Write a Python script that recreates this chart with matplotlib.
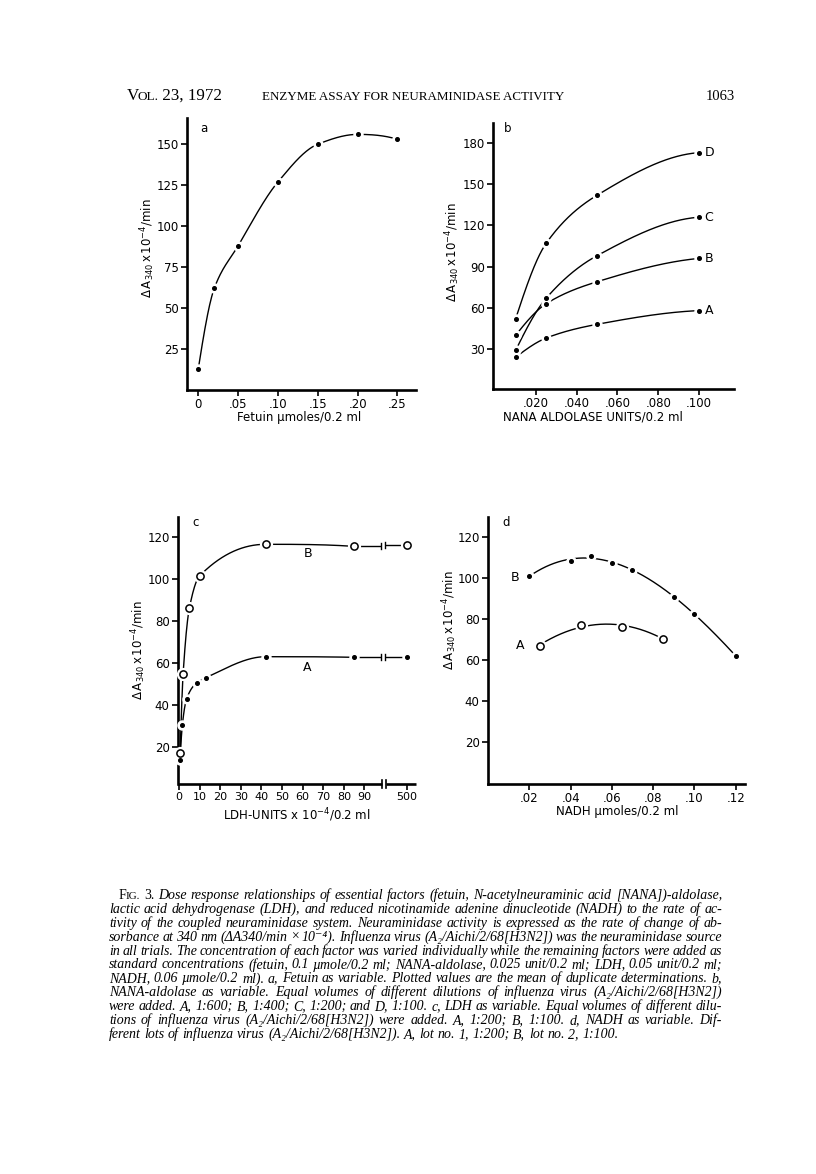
import numpy as np
import matplotlib
matplotlib.use('Agg')
import matplotlib.pyplot as plt
from matplotlib.transforms import blended_transform_factory

# ---------------- data ----------------
# panel a : fetuin as variable
a_fetuin = [0, 0.02, 0.05, 0.10, 0.15, 0.20, 0.25]
a_rate = [13, 62, 88, 127, 150, 156, 153]
a_xticks = [0, 0.05, 0.10, 0.15, 0.20, 0.25]
a_xticklabels = ['0', '.05', '.10', '.15', '.20', '.25']
a_yticks = [25, 50, 75, 100, 125, 150]

# panel b : NANA-aldolase as variable
b_units = [0.01, 0.025, 0.05, 0.10]
b_A = [24, 38, 48, 58]
b_B = [40, 63, 79, 96]
b_C = [29, 67, 98, 126]
b_D = [52, 107, 142, 173]
b_labels = ['A', 'B', 'C', 'D']
b_xticks = [0.02, 0.04, 0.06, 0.08, 0.10]
b_xticklabels = ['.020', '.040', '.060', '.080', '.100']
b_yticks = [30, 60, 90, 120, 150, 180]

# panel c : LDH as variable
c_ldh_A = [0.5, 1.6, 3.7, 8.6, 13, 42, 85, 500]
c_A = [14, 30.5, 43, 50.6, 53, 63, 62.7, 62.7]
c_ldh_B = [0.5, 2, 5, 10, 42, 85, 500]
c_B = [17, 55, 86, 101.5, 116.5, 115.5, 116.3]
c_xticks = [0, 10, 20, 30, 40, 50, 60, 70, 80, 90, 500]
c_yticks = [20, 40, 60, 80, 100, 120]

# panel d : NADH as variable
d_nadh_A = [0.025, 0.045, 0.065, 0.085]
d_A = [67, 77, 76, 70.5]
d_nadh_B = [0.02, 0.04, 0.05, 0.06, 0.07, 0.09, 0.10, 0.12]
d_B = [101, 108.3, 111, 107.3, 104, 90.6, 82.6, 62]
d_xticks = [0.02, 0.04, 0.06, 0.08, 0.10, 0.12]
d_xticklabels = ['.02', '.04', '.06', '.08', '.10', '.12']
d_yticks = [20, 40, 60, 80, 100, 120]

header_left = [('V', 1.0), ('OL.', 0.78), (' 23, 1972', 1.0)]
header_mid = 'ENZYME ASSAY FOR NEURAMINIDASE ACTIVITY'
header_right = '1063'

caption_lines = [
    "FIG. 3. Dose response relationships of essential factors (fetuin, N-acetylneuraminic acid [NANA])-aldolase,",
    "lactic acid dehydrogenase (LDH), and reduced nicotinamide adenine dinucleotide (NADH) to the rate of ac-",
    "tivity of the coupled neuraminidase system. Neuraminidase activity is expressed as the rate of change of ab-",
    "sorbance at 340 nm (\u0394A340/min \u00d7 10\u207b\u2074). Influenza virus (A\u2082/Aichi/2/68[H3N2]) was the neuraminidase source",
    "in all trials. The concentration of each factor was varied individually while the remaining factors were added as",
    "standard concentrations (fetuin, 0.1 \u00b5mole/0.2 ml; NANA-aldolase, 0.025 unit/0.2 ml; LDH, 0.05 unit/0.2 ml;",
    "NADH, 0.06 \u00b5mole/0.2 ml). a, Fetuin as variable. Plotted values are the mean of duplicate determinations. b,",
    "NANA-aldolase as variable. Equal volumes of different dilutions of influenza virus (A\u2082/Aichi/2/68[H3N2])",
    "were added. A, 1:600; B, 1:400; C, 1:200; and D, 1:100. c, LDH as variable. Equal volumes of different dilu-",
    "tions of influenza virus (A\u2082/Aichi/2/68[H3N2]) were added. A, 1:200; B, 1:100. d, NADH as variable. Dif-",
    "ferent lots of influenza virus (A\u2082/Aichi/2/68[H3N2]). A, lot no. 1, 1:200; B, lot no. 2, 1:100.",
]

# ---------------- setup ----------------
W, H = 816, 1174
plt.rcParams['font.family'] = ['DejaVu Sans']
plt.rcParams['mathtext.default'] = 'regular'
SERIF = ['Liberation Serif', 'DejaVu Serif']
TICK_FS = 8.5

fig = plt.figure(figsize=(W / 100, H / 100), dpi=100)
fig.patch.set_facecolor('white')
renderer = fig.canvas.get_renderer()


def fx(x):
    return x / W


def fy(y):
    return 1 - y / H


def box(x0, y0, x1, y1):
    return [x0 / W, 1 - y1 / H, (x1 - x0) / W, (y1 - y0) / H]


def pchip(x, y, xn):
    x = np.asarray(x, float)
    y = np.asarray(y, float)
    h = np.diff(x)
    d = np.diff(y) / h
    n = len(x)
    m = np.zeros(n)
    for k in range(1, n - 1):
        if d[k - 1] * d[k] > 0:
            w1 = 2 * h[k] + h[k - 1]
            w2 = h[k] + 2 * h[k - 1]
            m[k] = (w1 + w2) / (w1 / d[k - 1] + w2 / d[k])

    def endslope(h0, h1, d0, d1):
        s = ((2 * h0 + h1) * d0 - h0 * d1) / (h0 + h1)
        if np.sign(s) != np.sign(d0):
            s = 0.0
        elif np.sign(d0) != np.sign(d1) and abs(s) > abs(3 * d0):
            s = 3 * d0
        return s

    if n > 2:
        m[0] = endslope(h[0], h[1], d[0], d[1])
        m[-1] = endslope(h[-1], h[-2], d[-1], d[-2])
    else:
        m[:] = d[0]
    xn = np.asarray(xn, float)
    idx = np.clip(np.searchsorted(x, xn) - 1, 0, n - 2)
    t = (xn - x[idx]) / h[idx]
    h00 = 2 * t**3 - 3 * t**2 + 1
    h10 = t**3 - 2 * t**2 + t
    h01 = -2 * t**3 + 3 * t**2
    h11 = t**3 - t**2
    return h00 * y[idx] + h10 * h[idx] * m[idx] + h01 * y[idx + 1] + h11 * h[idx] * m[idx + 1]


def style_axes(ax):
    for s in ['top', 'right']:
        ax.spines[s].set_visible(False)
    for s in ['left', 'bottom']:
        ax.spines[s].set_linewidth(1.9)
    ax.tick_params(direction='out', length=4, width=1.2, labelsize=TICK_FS, pad=2)
    ax.set_facecolor('none')


def line(ax, xs, ys):
    ax.plot(xs, ys, color='black', lw=1.0, zorder=2, solid_capstyle='butt')


def dots(ax, x, y):
    ax.plot(x, y, ls='none', marker='o', ms=6.5, mfc='white', mec='white', zorder=3, clip_on=False)
    ax.plot(x, y, ls='none', marker='o', ms=2.6, mfc='black', mec='black', zorder=4, clip_on=False)


def circles(ax, x, y):
    ax.plot(x, y, ls='none', marker='o', ms=8.5, mfc='white', mec='white', zorder=3, clip_on=False)
    ax.plot(x, y, ls='none', marker='o', ms=5.2, mfc='white', mec='black', mew=1.1, zorder=4, clip_on=False)


def ftext(x, y, s, **kw):
    return fig.text(fx(x), fy(y), s, **kw)


YLAB = r'$\Delta\,A_{340}\,x\,10^{-4}/min$'

# ---------------- panel a ----------------
axa = fig.add_axes(box(187, 118, 416, 390))
style_axes(axa)
axa.set_xlim(-0.0142, 0.2733)
axa.set_ylim(0, 166)
xs = np.linspace(a_fetuin[0], a_fetuin[-1], 300)
line(axa, xs, pchip(a_fetuin, a_rate, xs))
dots(axa, a_fetuin, a_rate)
axa.set_xticks(a_xticks)
axa.set_xticklabels(a_xticklabels)
axa.tick_params(axis='x', pad=1.5)
axa.set_yticks(a_yticks)
ftext(204, 129, 'a', fontsize=TICK_FS, ha='center', va='center')
ftext(299, 417, 'Fetuin \u00b5moles/0.2 ml', fontsize=TICK_FS, ha='center', va='center')
ftext(148, 248, YLAB, fontsize=TICK_FS, rotation=90, ha='center', va='center')

# ---------------- panel b ----------------
axb = fig.add_axes(box(493, 123, 734, 389))
style_axes(axb)
axb.set_xlim(-0.0011, 0.1172)
axb.set_ylim(0.9, 194.6)
xs = np.linspace(b_units[0], b_units[-1], 300)
for lab, ser in zip(b_labels, [b_A, b_B, b_C, b_D]):
    line(axb, xs, pchip(b_units, ser, xs))
    dots(axb, b_units, ser)
    axb.annotate(lab, (b_units[-1], ser[-1]), xytext=(4, 0), textcoords='offset points',
                 fontsize=TICK_FS + 0.5, ha='left', va='center')
axb.set_xticks(b_xticks)
axb.set_xticklabels(b_xticklabels)
axb.set_yticks(b_yticks)
ftext(508, 128, 'b', fontsize=TICK_FS, ha='center', va='center')
ftext(593, 417, 'NANA ALDOLASE UNITS/0.2 ml', fontsize=TICK_FS, ha='center', va='center')
ftext(453, 252, YLAB, fontsize=TICK_FS, rotation=90, ha='center', va='center')

# ---------------- panel c ----------------
C_BREAK_POS = 110.7   # plotted position of the value 500 beyond the axis break


def cpos(v):
    v = np.asarray(v, float)
    return np.where(v > 100, C_BREAK_POS + (v - 500) * 0.02, v)


axc = fig.add_axes(box(178, 517, 416, 784))
style_axes(axc)
axc.spines['bottom'].set_visible(False)
axc.set_xlim(-0.5, 115)
axc.set_ylim(2.4, 129.5)
trc = blended_transform_factory(axc.transData, axc.transAxes)
axc.plot([-0.5, 98.3], [0, 0], color='black', lw=1.9, transform=trc, clip_on=False, solid_capstyle='butt')
axc.plot([100.4, 115], [0, 0], color='black', lw=1.9, transform=trc, clip_on=False, solid_capstyle='butt')
for bx in (98.3, 100.4):
    axc.plot([bx, bx], [-0.014, 0.014], color='black', lw=1.2, transform=trc, clip_on=False)

for xv, yv, marker in ((c_ldh_A, c_A, 'dot'), (c_ldh_B, c_B, 'circ')):
    px = cpos(xv)
    n_pre = int(np.sum(np.asarray(xv) <= 100))
    xs = np.linspace(px[0], px[n_pre - 1], 400)
    line(axc, xs, pchip(px[:n_pre], yv[:n_pre], xs))
    y_last, y_end = yv[n_pre - 1], yv[-1]
    line(axc, [px[n_pre - 1], 98.0], [y_last, y_last])
    line(axc, [99.8, px[-1]], [y_end, y_end])
    for bx, by in ((98.0, y_last), (99.8, y_end)):
        axc.plot([bx, bx], [by - 1.4, by + 1.4], color='black', lw=1.0, zorder=2)
    if marker == 'dot':
        dots(axc, px, yv)
    else:
        circles(axc, px, yv)
axc.text(62.6, 112.0, 'B', fontsize=TICK_FS + 0.5, ha='center', va='center')
axc.text(62.0, 58.0, 'A', fontsize=TICK_FS + 0.5, ha='center', va='center')
axc.set_xticks(cpos(c_xticks))
axc.set_xticklabels([str(v) for v in c_xticks])
axc.tick_params(axis='x', pad=2, labelsize=8)
axc.set_yticks(c_yticks)
ftext(196, 523, 'c', fontsize=TICK_FS, ha='center', va='center')
ftext(297, 815, r'LDH-UNITS x $10^{-4}$/0.2 ml', fontsize=TICK_FS, ha='center', va='center')
ftext(139, 650, YLAB, fontsize=TICK_FS, rotation=90, ha='center', va='center')

# ---------------- panel d ----------------
axd = fig.add_axes(box(488, 517, 745, 784))
style_axes(axd)
axd.set_xlim(0, 0.1245)
axd.set_ylim(-0.5, 129.8)
pB = np.polyfit(d_nadh_B, d_B, 3)
xs = np.linspace(d_nadh_B[0], d_nadh_B[-1], 300)
line(axd, xs, np.polyval(pB, xs))
dots(axd, d_nadh_B, d_B)
pA = np.polyfit(d_nadh_A, d_A, 2)
xs = np.linspace(d_nadh_A[0], d_nadh_A[-1], 300)
line(axd, xs, np.polyval(pA, xs))
circles(axd, d_nadh_A, d_A)
axd.annotate('B', (d_nadh_B[0], d_B[0]), xytext=(-7, -1), textcoords='offset points',
             fontsize=TICK_FS + 0.5, ha='right', va='center')
axd.annotate('A', (d_nadh_A[0], d_A[0]), xytext=(-11, 0), textcoords='offset points',
             fontsize=TICK_FS + 0.5, ha='right', va='center')
axd.set_xticks(d_xticks)
axd.set_xticklabels(d_xticklabels)
axd.set_yticks(d_yticks)
ftext(506, 522, 'd', fontsize=TICK_FS, ha='center', va='center')
ftext(617, 812, 'NADH \u00b5moles/0.2 ml', fontsize=TICK_FS, ha='center', va='center')
ftext(450, 620, YLAB, fontsize=TICK_FS, rotation=90, ha='center', va='center')


# ---------------- header & caption ----------------
def text_width(s, fs, style='normal'):
    t = fig.text(0, 0, s, fontsize=fs, style=style, family=SERIF)
    w = t.get_window_extent(renderer).width
    t.remove()
    return w


KERN = {'V': -2.0, 'F': -0.8}


def seg_advance(s, fs, style):
    return text_width(s.replace(' ', '\u00a0'), fs, style) + KERN.get(s, 0.0)


def place_segments(x0, y, segs, fs, style='normal'):
    """segs: list of (text, size factor); drawn side by side from x0."""
    x = x0
    for s, fac in segs:
        ftext(x, y, s, fontsize=fs * fac, style=style, family=SERIF, ha='left', va='baseline')
        x += seg_advance(s, fs * fac, style)
    return x - x0


def fit_segments(x0, x1, y, segs):
    w10 = sum(seg_advance(s, 10 * f, 'normal') for s, f in segs)
    place_segments(x0, y, segs, 10 * (x1 - x0) / w10)


fit_segments(127, 222, 100, header_left)
fit_segments(262, 566, 100, [(header_mid, 1.0)])
fit_segments(706, 735, 100, [(header_right, 1.0)])


CAP_L, CAP_R = 109, 722
INDENT = 10
space_w10 = text_width('a a', 10, 'italic') - text_width('aa', 10, 'italic')
ratios = []
for i, ln in enumerate(caption_lines[:-1]):
    ws = ln.split(' ')
    nat = sum(text_width(w, 10, 'italic') for w in ws) + space_w10 * (len(ws) - 1)
    target = CAP_R - CAP_L - (INDENT if i == 0 else 0)
    ratios.append(target / nat)
CAP_FS = 10 * float(np.percentile(ratios, 25))
space_w = space_w10 * CAP_FS / 10


def word_segments(i, k, w):
    if i == 0 and k == 0:
        return [('F', 1.0), ('IG.', 0.8)], 'normal'
    if i == 0 and k == 1:
        return [(w, 1.0)], 'normal'
    return [(w, 1.0)], 'italic'


for i, ln in enumerate(caption_lines):
    ws = ln.split(' ')
    y = 899 + 13.9 * i
    x0 = CAP_L + (INDENT if i == 0 else 0)
    segs_styles = [word_segments(i, k, w) for k, w in enumerate(ws)]
    widths = [sum(seg_advance(s, CAP_FS * f, st) for s, f in segs) for segs, st in segs_styles]
    if i < len(caption_lines) - 1:
        gap = (CAP_R - x0 - sum(widths)) / (len(ws) - 1)
    else:
        gap = space_w
    x = x0
    for (segs, st), wd in zip(segs_styles, widths):
        place_segments(x, y, segs, CAP_FS, st)
        x += wd + gap

fig.savefig('out.png', dpi=100, facecolor='white')
